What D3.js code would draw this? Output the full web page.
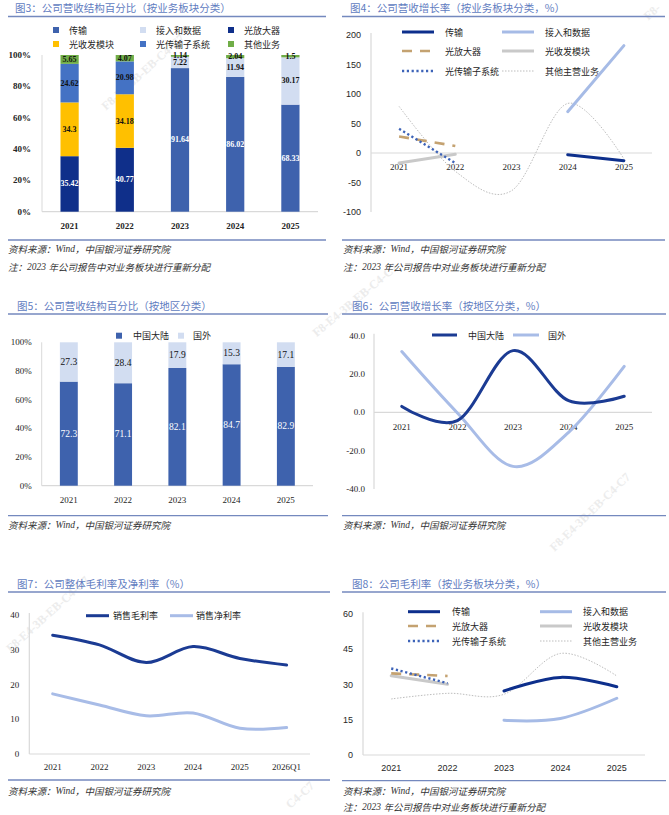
<!DOCTYPE html>
<html><head><meta charset="utf-8">
<script src="https://cdn.jsdelivr.net/npm/d3@7"></script>
<style>
html,body{margin:0;padding:0;background:#fff;}
svg{display:block;}
</style></head><body>
<svg id="c" width="669" height="815"></svg>
<script>
// ---------------- DATA ----------------
const years  = ["2021","2022","2023","2024","2025"];
const years7 = ["2021","2022","2023","2024","2025","2026Q1"];
const pctTicks = [0,0.2,0.4,0.6,0.8,1];

// Fig3 revenue share by business (%)
const bizLegend3 = ["传输","接入和数据","光放大器","光收发模块","光传输子系统","其他业务"];
const bizStack3  = ["传输","光放大器","光收发模块","光传输子系统","接入和数据","其他业务"];
const shareTransport   = [0,0,91.64,86.02,68.33];
const shareAccess      = [0,0,7.22,11.94,30.17];
const shareAmplifier   = [35.42,40.77,0,0,0];
const shareTransceiver = [34.3,34.18,0,0,0];
const shareSubsystem   = [24.62,20.98,0,0,0];
const shareOther       = [5.65,4.07,1.14,2.04,1.5];

// Fig4 revenue growth by business (%)
const bizLegend4 = ["传输","接入和数据","光放大器","光收发模块","光传输子系统","其他主营业务"];
const growthTransport   = [null,null,null,-3,-13];
const growthAccess      = [null,null,null,70,182];
const growthAmplifier   = [28,12,null,null,null];
const growthTransceiver = [-17,-2,null,null,null];
const growthSubsystem   = [41,-17,null,null,null];
const growthOther       = [79,-31,-64,84,-10];
const growthTicks4 = [-100,-50,0,50,100,150,200];

// Fig5 revenue share by region (%)
const regionNames = ["中国大陆","国外"];
const shareMainland = [72.3,71.1,82.1,84.7,82.9];
const shareOverseas = [27.3,28.4,17.9,15.3,17.1];

// Fig6 revenue growth by region (%)
const growthMainland = [3.1,-4.3,32.2,6.1,8.4];
const growthOverseas = [31.7,-0.3,-28.2,-10.4,24.0];
const growthTicks6 = [-40,-20,0,20,40];

// Fig7 margins (%)
const marginNames = ["销售毛利率","销售净利率"];
const grossMargin = [34.2,31.4,26.3,30.9,27.5,25.6];
const netMargin   = [17.3,14.1,11.0,11.8,7.4,7.6];
const marginTicks7 = [0,10,20,30,40];

// Fig8 gross margin by business (%)
const gmTransport   = [null,null,27.3,33.1,29.1];
const gmAccess      = [null,null,14.8,15.6,24.2];
const gmAmplifier   = [34.8,33.7,null,null,null];
const gmTransceiver = [33.8,30.2,null,null,null];
const gmSubsystem   = [36.9,30.6,null,null,null];
const gmOther       = [23.9,26.3,25.9,43.3,33.7];
const gmTicks8 = [0,15,30,45,60];

// ---------------- STYLE ----------------
const svg = d3.select("#c");
const serif = '"Liberation Serif","Times New Roman",serif';
const sans  = '"Liberation Sans",Arial,sans-serif';
const cjk   = '"Noto Sans CJK SC","Noto Sans",sans-serif';
const TITLE_C = "#5f7cbf", RULE_C = "#7489be", AXIS_C = "#d9d9d9", TXT = "#262626";
const NAVY = "#1b3b93", LIGHT = "#a8bce7";

const colors3 = {"传输":"#3e62ad","接入和数据":"#d2ddf1","光放大器":"#0f2f8a","光收发模块":"#ffc000","光传输子系统":"#4472c4","其他业务":"#70ad47"};
const labelDark3 = {"传输":"#fff","光放大器":"#fff"};
const lineStyle = {
  "传输":        {c:"#0d2f8c", w:3},
  "接入和数据":  {c:"#a6bbe6", w:3},
  "光放大器":    {c:"#c4a271", w:2.6, d:"10,8"},
  "光收发模块":  {c:"#c9c9c9", w:3},
  "光传输子系统":{c:"#3d63b8", w:2.4, d:"2.2,2.6"},
  "其他主营业务":{c:"#bdbdbd", w:1, d:"1.5,1.5"}
};

// ---------------- WATERMARKS ----------------
function watermark(x,y,a,t,anchor){
  svg.append("text").attr("transform",`translate(${x},${y}) rotate(${a})`)
    .attr("text-anchor",anchor||"middle").attr("dominant-baseline","central")
    .attr("font-family",serif).attr("font-weight","bold").attr("font-size",12)
    .attr("fill","#ececec").text(t);
}
watermark(143,72,-42,"F8-E4-3B-EB-C4-C7");
watermark(355,300,-40,"F8-E4-3B-EB-C4-C7");
watermark(590,512,-44,"F8-E4-3B-EB-C4-C7");
watermark(8,650,-42,"F8-E4-3B-EB-C4-C7","start");
watermark(300,795,-42,"C4-C7");
watermark(652,12,-42,"F8-");

// ---------------- FRAME HELPERS ----------------
function title(x,y,t){
  svg.append("text").attr("x",x).attr("y",y).attr("dominant-baseline","central")
    .attr("font-family",cjk).attr("font-size",10.5).attr("fill",TITLE_C).text(t);
}
function rule(x0,x1,y){
  svg.append("line").attr("x1",x0).attr("x2",x1).attr("y1",y).attr("y2",y)
    .attr("stroke",RULE_C).attr("stroke-width",1.3);
}
function source(x,y){
  const t = svg.append("text").attr("x",x).attr("y",y).attr("dominant-baseline","central")
    .attr("font-size",9.5).attr("font-style","italic").attr("fill","#333");
  t.append("tspan").attr("font-family",cjk).text("资料来源：");
  t.append("tspan").attr("font-family",serif).text("Wind");
  t.append("tspan").attr("font-family",cjk).text("，中国银河证券研究院");
}
function note(x,y){
  const t = svg.append("text").attr("x",x).attr("y",y).attr("dominant-baseline","central")
    .attr("font-size",9.5).attr("font-style","italic").attr("fill","#333");
  t.append("tspan").attr("font-family",cjk).text("注：");
  t.append("tspan").attr("font-family",serif).text("2023 ");
  t.append("tspan").attr("font-family",cjk).text("年公司报告中对业务板块进行重新分配");
}
function legText(x,y,t){
  svg.append("text").attr("x",x).attr("y",y).attr("dominant-baseline","central")
    .attr("font-family",cjk).attr("font-size",9).attr("fill",TXT).text(t);
}
function legSwatch(x,y,c,t,tx){
  svg.append("rect").attr("x",x).attr("y",y-3).attr("width",6).attr("height",6).attr("fill",c);
  legText(tx,y,t);
}
function legLine(x0,x1,y,st,t,tx){
  const l = svg.append("line").attr("x1",x0).attr("x2",x1).attr("y1",y).attr("y2",y)
    .attr("stroke",st.c).attr("stroke-width",st.w);
  if(st.d) l.attr("stroke-dasharray",st.d);
  legText(tx,y,t);
}
function tickText(g,x,y,t,opt){
  g.append("text").attr("x",x).attr("y",y).attr("dominant-baseline","central")
    .attr("text-anchor",opt.anchor||"middle").attr("font-family",opt.font||serif)
    .attr("font-weight",opt.bold?"bold":"normal").attr("font-size",opt.size||9)
    .attr("fill",TXT).text(t);
}

// ---------------- STACKED 100% BAR ----------------
function stackedBar(cfg){
  const g = svg.append("g");
  const x = d3.scaleBand().domain(years).range([cfg.x0,cfg.x1]).paddingInner(0.67).paddingOuter(0.335);
  const y = d3.scaleLinear().domain([0,1]).range([cfg.yb,cfg.yt]);
  const stack = d3.stack().keys(cfg.keys).offset(d3.stackOffsetExpand);
  const layers = stack(cfg.rows);
  g.append("line").attr("x1",cfg.x0).attr("x2",cfg.x0).attr("y1",y(1)).attr("y2",y(0)).attr("stroke",AXIS_C);
  g.append("line").attr("x1",cfg.x0).attr("x2",cfg.x1).attr("y1",y(0)).attr("y2",y(0)).attr("stroke",AXIS_C).attr("stroke-width",1.2);
  pctTicks.forEach(t=>tickText(g,cfg.tickX,y(t),d3.format(".0%")(t),{anchor:"end",bold:cfg.bold}));
  years.forEach(yr=>tickText(g,x(yr)+x.bandwidth()/2,cfg.xLabY,yr,{bold:cfg.bold}));
  layers.forEach(layer=>{
    const key = layer.key;
    g.selectAll(null).data(layer).join("rect")
      .attr("x",d=>x(d.data.year)).attr("width",x.bandwidth())
      .attr("y",d=>y(d[1])).attr("height",d=>Math.max(0,y(d[0])-y(d[1])))
      .attr("fill",cfg.colors[key]);
  });
  layers.forEach(layer=>{
    const key = layer.key;
    layer.forEach(d=>{
      const v = d.data[key];
      if(!v) return;
      g.append("text").attr("x",x(d.data.year)+x.bandwidth()/2).attr("y",y((d[0]+d[1])/2))
        .attr("text-anchor","middle").attr("dominant-baseline","central")
        .attr("font-family",serif).attr("font-size",cfg.labSize).attr("font-weight",cfg.labBold?"bold":"normal")
        .attr("fill",cfg.labColor[key]||"#111").text(String(v));
    });
  });
}

// ---------------- LINE CHART ----------------
function lineChart(cfg){
  const g = svg.append("g");
  const x = d3.scalePoint().domain(cfg.cats).range([cfg.x0,cfg.x1]).padding(0.5);
  const y = d3.scaleLinear().domain(cfg.ydom).range([cfg.yb,cfg.yt]);
  g.append("line").attr("x1",cfg.x0).attr("x2",cfg.x0).attr("y1",y(cfg.ydom[1])-2).attr("y2",y(cfg.ydom[0])).attr("stroke",AXIS_C).attr("stroke-width",1.2);
  g.append("line").attr("x1",cfg.x0).attr("x2",cfg.x1).attr("y1",y(0)).attr("y2",y(0)).attr("stroke",AXIS_C).attr("stroke-width",1.2);
  cfg.ticks.forEach(t=>tickText(g,cfg.tickX,y(t),cfg.fmt(t),{anchor:"end",font:cfg.yFont}));
  cfg.cats.forEach(c=>tickText(g,x(c),y(0)+cfg.xLabDy,c,{font:cfg.xFont}));
  cfg.series.forEach(s=>{
    const pts = cfg.cats.map((c,i)=>({c,v:s.values[i]}));
    const line = d3.line().defined(d=>d.v!=null).x(d=>x(d.c)).y(d=>y(d.v))
      .curve(s.smooth?d3.curveCardinal.tension(0):d3.curveLinear);
    const p = g.append("path").attr("d",line(pts)).attr("fill","none")
      .attr("stroke",s.st.c).attr("stroke-width",s.st.w).attr("stroke-linecap",s.st.d?"butt":"round");
    if(s.st.d) p.attr("stroke-dasharray",s.st.d);
  });
}

// ================= FIG 3 =================
title(15,7.5,"图3：公司营收结构百分比（按业务板块分类）");
rule(8,326,16.5);
[[0,53,30],[1,140,30],[2,228,30],[3,53,44],[4,140,44],[5,228,44]].forEach(([i,lx,ly])=>{
  legSwatch(lx,ly,colors3[bizLegend3[i]],bizLegend3[i],lx+16);
});
stackedBar({
  keys:bizStack3, colors:colors3, labColor:labelDark3,
  rows:years.map((yr,i)=>({year:yr,"传输":shareTransport[i],"接入和数据":shareAccess[i],"光放大器":shareAmplifier[i],
    "光收发模块":shareTransceiver[i],"光传输子系统":shareSubsystem[i],"其他业务":shareOther[i]})),
  x0:42,x1:318,yb:211.7,yt:55,tickX:31,xLabY:226,bold:true,labSize:8,labBold:true
});
rule(8,326,240);
source(8,249);
note(8,267);

// ================= FIG 4 =================
title(350,7.5,"图4：公司营收增长率（按业务板块分类，%）");
rule(342,665,16.5);
[[0,402,434,445,32],[1,502,534,545,32],[2,402,434,445,51],[3,502,534,545,51],[4,402,434,445,71],[5,502,534,545,71]].forEach(([i,a,b,tx,ly])=>{
  legLine(a,b,ly,lineStyle[bizLegend4[i]],bizLegend4[i],tx);
});
lineChart({
  cats:years, x0:371,x1:652, ydom:[-100,200], yb:212, yt:35, ticks:growthTicks4, fmt:d=>String(d),
  tickX:361, xLabDy:14, yFont:sans, xFont:serif,
  series:[
    {values:growthOther, st:lineStyle["其他主营业务"], smooth:true},
    {values:growthTransceiver, st:lineStyle["光收发模块"]},
    {values:growthAmplifier, st:lineStyle["光放大器"]},
    {values:growthSubsystem, st:lineStyle["光传输子系统"]},
    {values:growthAccess, st:lineStyle["接入和数据"]},
    {values:growthTransport, st:lineStyle["传输"]}
  ]
});
rule(342,665,240);
source(343,249);
note(343,267);

// ================= FIG 5 =================
title(17,305,"图5：公司营收结构百分比（按地区分类）");
rule(8,328,314);
legSwatch(116,335.7,"#3e62ad","中国大陆",133);
legSwatch(178,335.7,"#d2ddf1","国外",193);
stackedBar({
  keys:regionNames, colors:{"中国大陆":"#3e62ad","国外":"#d2ddf1"}, labColor:{"中国大陆":"#fff"},
  rows:years.map((yr,i)=>({year:yr,"中国大陆":shareMainland[i],"国外":shareOverseas[i]})),
  x0:41.7,x1:313,yb:485.7,yt:342.3,tickX:31.7,xLabY:500,bold:false,labSize:9.5,labBold:false
});
rule(8,328,515.7);
source(8,524.5);

// ================= FIG 6 =================
title(352,305,"图6：公司营收增长率（按地区分类，%）");
rule(342,666,314);
legLine(432,457,335,{c:NAVY,w:3},"中国大陆",468);
legLine(513,539,335,{c:LIGHT,w:3},"国外",548);
lineChart({
  cats:years, x0:374,x1:652, ydom:[-40,40], yb:489, yt:335.7, ticks:growthTicks6, fmt:d=>d.toFixed(1),
  tickX:365, xLabDy:14.5, yFont:serif, xFont:serif,
  series:[
    {values:growthOverseas, st:{c:LIGHT,w:3}, smooth:true},
    {values:growthMainland, st:{c:NAVY,w:3}, smooth:true}
  ]
});
rule(342,666,515.7);
source(343,524.5);

// ================= FIG 7 =================
title(17,583.5,"图7：公司整体毛利率及净利率（%）");
rule(8,330,592);
legLine(86,109,615.7,{c:NAVY,w:3},"销售毛利率",113);
legLine(170,193,615.7,{c:LIGHT,w:3},"销售净利率",196);
lineChart({
  cats:years7, x0:29.3,x1:310, ydom:[0,40], yb:754, yt:615, ticks:marginTicks7, fmt:d=>String(d),
  tickX:19.3, xLabDy:13, yFont:serif, xFont:serif,
  series:[
    {values:netMargin, st:{c:LIGHT,w:3}, smooth:true},
    {values:grossMargin, st:{c:NAVY,w:3}, smooth:true}
  ]
});
rule(8,330,780);
source(8,790.7);

// ================= FIG 8 =================
title(352,583.5,"图8：公司毛利率（按业务板块分类，%）");
rule(342,666,592);
[[0,408,440,452,611.7],[1,540,572,583,611.7],[2,408,440,452,626],[3,540,572,583,626],[4,408,440,452,641],[5,540,572,583,641]].forEach(([i,a,b,tx,ly])=>{
  legLine(a,b,ly,lineStyle[bizLegend4[i]],bizLegend4[i],tx);
});
lineChart({
  cats:years, x0:363,x1:645, ydom:[0,60], yb:755, yt:614.3, ticks:gmTicks8, fmt:d=>String(d),
  tickX:353, xLabDy:13, yFont:sans, xFont:sans,
  series:[
    {values:gmOther, st:lineStyle["其他主营业务"], smooth:true},
    {values:gmTransceiver, st:lineStyle["光收发模块"]},
    {values:gmAmplifier, st:lineStyle["光放大器"]},
    {values:gmSubsystem, st:lineStyle["光传输子系统"]},
    {values:gmAccess, st:lineStyle["接入和数据"], smooth:true},
    {values:gmTransport, st:lineStyle["传输"], smooth:true}
  ]
});
rule(342,666,780.7);
source(343,791);
note(343,807.3);
</script>
</body></html>
